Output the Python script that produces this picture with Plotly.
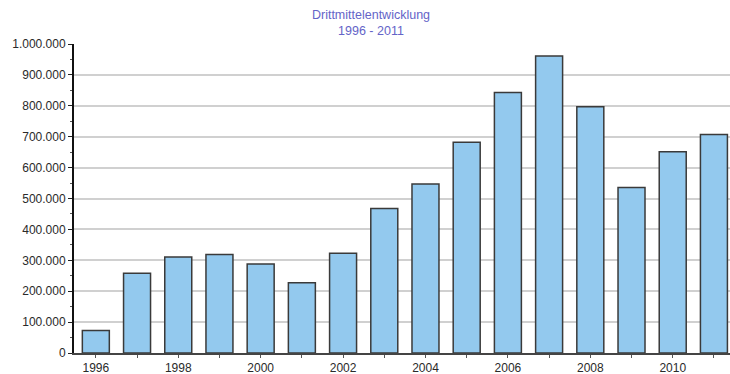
import plotly.graph_objects as go

years = list(range(1996, 2012))
values = [73000, 258000, 311000, 319000, 288000, 227000, 323000, 468000,
          547000, 682000, 843000, 961000, 797000, 536000, 651000, 707000]
x_ticktext = [str(y) if y % 2 == 0 else "" for y in years]
y_ticks = list(range(0, 1000001, 100000))

fig = go.Figure(go.Bar(
    x=years, y=values, width=0.655,
    marker=dict(color="#93c9ee", line=dict(color="#3a3a3a", width=1.5)),
))

fig.update_layout(
    width=730, height=374,
    margin=dict(l=74, r=0, t=44, b=21),
    paper_bgcolor="white", plot_bgcolor="white",
    separators=",.",
    showlegend=False,
    font=dict(family="Liberation Sans, Arial, sans-serif", size=12, color="#2a2a2a"),
    title=dict(text="Drittmittelentwicklung<br>1996 - 2011", x=371/730, xanchor="center",
               y=1 - 19/374, yanchor="top",
               font=dict(family="Liberation Sans, Arial, sans-serif", size=12.5, color="#6464c8")),
    bargap=0.3,
)
fig.update_xaxes(
    range=[1995.47, 2011.39], tickmode="array", tickvals=years, ticktext=x_ticktext,
    ticks="outside", ticklen=3, tickcolor="#555555", showgrid=False,
    showline=True, linecolor="#444444", linewidth=2, zeroline=False,
)
fig.update_yaxes(
    range=[0, 1000000], tickmode="array", tickvals=y_ticks, tickformat=",d",
    ticks="outside", ticklen=4, tickcolor="#222222",
    showgrid=True, gridcolor="#d0d0d0", gridwidth=2,
    showline=True, linecolor="#111111", linewidth=2, zeroline=False,
    minor=dict(tickmode="linear", dtick=50000, ticks="outside", ticklen=2, tickcolor="#555555", showgrid=False),
)

fig.write_html("out.html")
